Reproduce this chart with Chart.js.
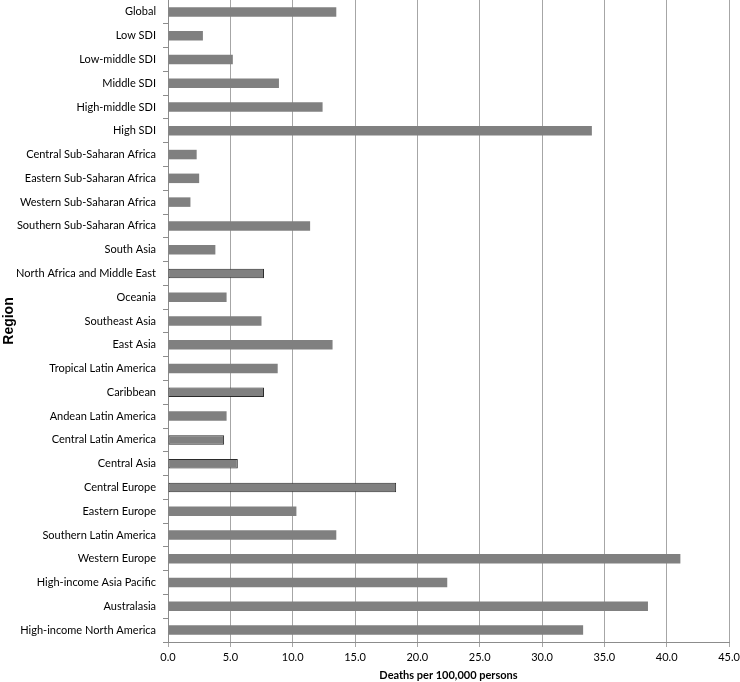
<!DOCTYPE html>
<html>
<head>
<meta charset="utf-8">
<script src="https://cdn.jsdelivr.net/npm/chart.js@4/dist/chart.umd.min.js"></script>
<style>
    html, body { margin: 0; padding: 0; background: #fff; }
    #wrap { width: 740px; height: 682px; }
</style>
</head>
<body>
<div id="wrap"><canvas id="chart" width="740" height="682"></canvas></div>
<script>
// Data
const regions = [
    'Global', 'Low SDI', 'Low-middle SDI', 'Middle SDI', 'High-middle SDI', 'High SDI',
    'Central Sub-Saharan Africa', 'Eastern Sub-Saharan Africa', 'Western Sub-Saharan Africa',
    'Southern Sub-Saharan Africa', 'South Asia', 'North Africa and Middle East', 'Oceania',
    'Southeast Asia', 'East Asia', 'Tropical Latin America', 'Caribbean', 'Andean Latin America',
    'Central Latin America', 'Central Asia', 'Central Europe', 'Eastern Europe',
    'Southern Latin America', 'Western Europe', 'High-income Asia Pacific', 'Australasia',
    'High-income North America'
];
const deathRates = [
    13.5, 2.8, 5.2, 8.9, 12.4, 34.0,
    2.3, 2.5, 1.8, 11.4, 3.8, 7.7, 4.7,
    7.5, 13.2, 8.8, 7.7, 4.7, 4.5, 5.6,
    18.3, 10.3, 13.5, 41.1, 22.4, 38.5, 33.3
];
// regions whose bars carry a dark outline in the original
const outlined = ['North Africa and Middle East', 'Caribbean', 'Central Latin America', 'Central Asia', 'Central Europe'];
const xTicks = { min: 0, max: 45, step: 5 };

const ctx = document.getElementById('chart').getContext('2d');
new Chart(ctx, {
    type: 'bar',
    data: {
        labels: regions,
        datasets: [{
            data: deathRates,
            backgroundColor: '#808080',
            borderColor: '#2b2b2b',
            borderWidth: regions.map(r => outlined.includes(r) ? 1 : 0),
            borderSkipped: false,
            categoryPercentage: 1,
            barPercentage: 0.4
        }]
    },
    options: {
        indexAxis: 'y',
        responsive: false,
        animation: false,
        layout: { padding: { top: 0, right: 11, bottom: 0, left: 0 } },
        plugins: {
            legend: { display: false },
            tooltip: { enabled: false }
        },
        scales: {
            x: {
                min: xTicks.min,
                max: xTicks.max,
                ticks: {
                    stepSize: xTicks.step,
                    color: '#000',
                    font: { family: 'Lato', size: 11 },
                    padding: 4,
                    callback: v => Number(v).toFixed(1)
                },
                grid: {
                    color: '#a6a6a6',
                    lineWidth: 1,
                    tickLength: 5,
                    drawTicks: true
                },
                border: { color: '#8c8c8c' },
                title: {
                    display: true,
                    text: 'Deaths per 100,000 persons',
                    color: '#000',
                    font: { family: 'Lato', size: 11, weight: 'bold' },
                    padding: { top: 4, bottom: 0 }
                },
                afterFit: s => {
                    s.height = 40;
                    s.paddingLeft = 0;
                    s.paddingRight = 0;
                }
            },
            y: {
                ticks: {
                    color: '#000',
                    font: { family: 'Lato', size: 11 },
                    padding: 7,
                    autoSkip: false
                },
                grid: {
                    drawOnChartArea: false,
                    drawTicks: true,
                    tickLength: 5,
                    color: '#8c8c8c',
                    offset: true
                },
                border: { color: '#8c8c8c' },
                title: {
                    display: true,
                    text: 'Region',
                    color: '#000',
                    font: { family: 'Liberation Sans', size: 14, weight: 'bold' },
                    padding: { top: 1, bottom: 0 }
                },
                afterFit: s => {
                    s.width = 168;
                    s.paddingTop = 0;
                    s.paddingBottom = 0;
                }
            }
        }
    }
});
</script>
</body>
</html>
